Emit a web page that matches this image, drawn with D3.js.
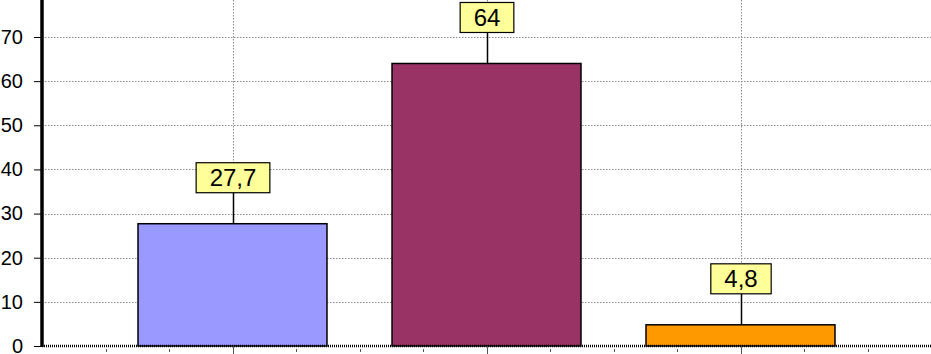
<!DOCTYPE html>
<html>
<head>
<meta charset="utf-8">
<script src="https://cdn.jsdelivr.net/npm/d3@7"></script>
<style>
  body { margin: 0; background: #fff; }
  svg { display: block; font-family: "Liberation Sans", Arial, sans-serif; }
</style>
</head>
<body>
<div id="chart"></div>
<script>
const categories = ["A", "B", "C"]
const values = [27.7, 64, 4.8]
const barColors = ["#9999FF", "#993366", "#FF9900"]
const yTicks = [0, 10, 20, 30, 40, 50, 60, 70]

const WIDTH = 931, HEIGHT = 354
const LEFT = 42, BOTTOM = 346

const svg = d3.select("#chart").append("svg")
  .attr("width", WIDTH)
  .attr("height", HEIGHT)

const y = d3.scaleLinear().domain([0, 70]).range([BOTTOM, 37])

// linear axis across the categories, a quarter of a band left free at each side
const xl = d3.scaleLinear().domain([-0.25, categories.length + 0.25]).range([LEFT, WIDTH])
const x = d3.scaleBand().domain(categories)
  .range([xl(0), xl(categories.length)])
  .paddingInner(0.256).paddingOuter(0.128)

// gridlines
const grid = svg.append("g")
  .attr("stroke", "#8a8a8a")
  .attr("stroke-width", 1)
  .attr("stroke-dasharray", "1.5,1.5")
grid.selectAll(".hgrid")
  .data(yTicks.filter(d => d > 0))
  .enter().append("line")
    .attr("x1", LEFT).attr("x2", WIDTH)
    .attr("y1", d => Math.round(y(d)) + 0.5)
    .attr("y2", d => Math.round(y(d)) + 0.5)
grid.selectAll(".vgrid")
  .data(categories)
  .enter().append("line")
    .attr("x1", d => Math.round(x(d) + x.bandwidth() / 2) + 0.5)
    .attr("x2", d => Math.round(x(d) + x.bandwidth() / 2) + 0.5)
    .attr("y1", 0).attr("y2", BOTTOM)

// bars
svg.selectAll(".bar")
  .data(values)
  .enter().append("rect")
    .attr("x", (d, i) => x(categories[i]))
    .attr("y", d => y(d))
    .attr("width", x.bandwidth())
    .attr("height", d => BOTTOM - y(d))
    .attr("fill", (d, i) => barColors[i])
    .attr("stroke", "#000")
    .attr("stroke-width", 1.5)

// x axis: major ticks at centers, minor ticks every quarter band
const xAxisG = svg.append("g")
xAxisG.selectAll(".minor")
  .data(d3.range(0, categories.length + 0.01, 0.25).filter(v => (v % 1) !== 0.5))
  .enter().append("line")
    .attr("x1", d => Math.round(xl(d)) + 0.5).attr("x2", d => Math.round(xl(d)) + 0.5)
    .attr("y1", BOTTOM + 3).attr("y2", BOTTOM + 6)
    .attr("stroke", "#555").attr("stroke-width", 1)
xAxisG.selectAll(".major")
  .data(categories)
  .enter().append("line")
    .attr("x1", d => Math.round(x(d) + x.bandwidth() / 2) + 0.5)
    .attr("x2", d => Math.round(x(d) + x.bandwidth() / 2) + 0.5)
    .attr("y1", BOTTOM).attr("y2", BOTTOM + 8)
    .attr("stroke", "#555").attr("stroke-width", 1)
xAxisG.append("line")
  .attr("x1", LEFT).attr("x2", WIDTH)
  .attr("y1", BOTTOM).attr("y2", BOTTOM)
  .attr("stroke", "#000").attr("stroke-width", 2.5)
  .attr("stroke-dasharray", "1,1")

// y axis
const yAxisG = svg.append("g")
  .attr("transform", `translate(${LEFT}, 0)`)
  .call(d3.axisLeft(y).tickValues(yTicks).tickSize(8).tickPadding(11).tickFormat(d3.format("d")))
yAxisG.select(".domain").remove()
yAxisG.selectAll(".tick line").attr("stroke", "#000").attr("stroke-width", 1)
yAxisG.selectAll(".tick text")
  .attr("font-size", 20)
  .attr("font-family", "Liberation Sans, Arial, sans-serif")
  .attr("fill", "#000")
svg.append("line")
  .attr("x1", LEFT).attr("x2", LEFT)
  .attr("y1", 0).attr("y2", BOTTOM + 1)
  .attr("stroke", "#000").attr("stroke-width", 3.5)

// value labels with leader lines
const fmt = v => String(v).replace(".", ",")
const labels = svg.selectAll(".label")
  .data(values)
  .enter().append("g")
  .attr("transform", (d, i) => `translate(${Math.round(x(categories[i]) + x.bandwidth() / 2)}, ${y(d)})`)

labels.append("line")
  .attr("x1", 0.5).attr("x2", 0.5)
  .attr("y1", 0).attr("y2", -31)
  .attr("stroke", "#000").attr("stroke-width", 1.5)

labels.each(function(d) {
  const g = d3.select(this)
  const rect = g.append("rect")
  const txt = g.append("text")
    .attr("text-anchor", "middle")
    .attr("x", 0)
    .attr("y", -37.5)
    .attr("font-size", 24)
    .attr("fill", "#000")
    .text(fmt(d))
  const w = txt.node().getComputedTextLength() + 27
  rect.attr("x", -w / 2).attr("y", -61)
    .attr("width", w).attr("height", 30)
    .attr("fill", "#FFFF99")
    .attr("stroke", "#000").attr("stroke-width", 1.2)
})
</script>
</body>
</html>
